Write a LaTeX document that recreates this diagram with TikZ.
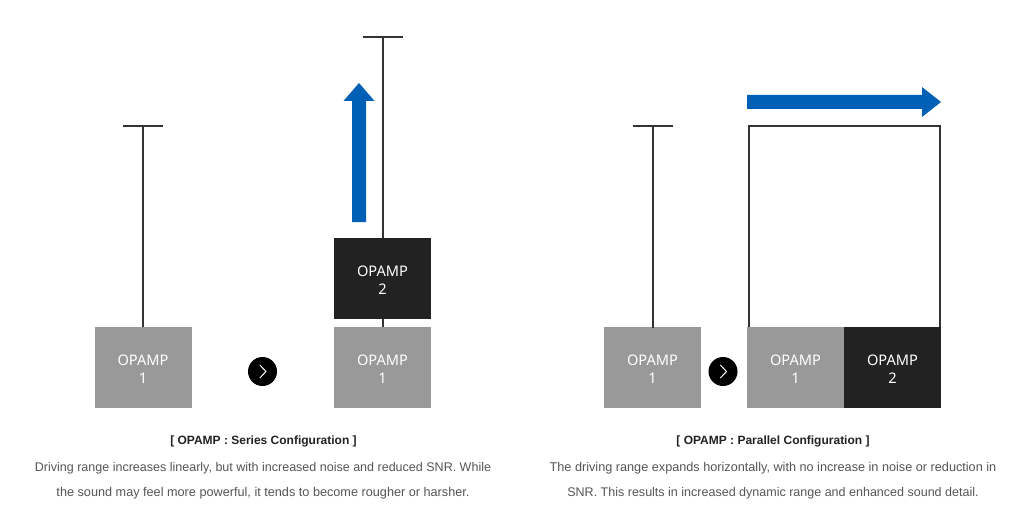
\documentclass[tikz,border=0pt]{standalone}
\usepackage{fontspec}
\setmainfont{Liberation Sans}
\newfontfamily\boxfont{Noto Sans}
\definecolor{lightbox}{HTML}{999999}
\definecolor{darkbox}{HTML}{222222}
\definecolor{linec}{HTML}{333333}
\definecolor{bluearrow}{HTML}{0060B5}
\definecolor{bodytext}{HTML}{555555}
\newcommand{\amplabel}[2]{\rule{0pt}{14pt}#1\\#2}
\tikzset{
  ampbox/.style={minimum width=97pt,minimum height=81pt,inner sep=0pt,outer sep=0pt,text=white,align=center,font=\boxfont\fontsize{14.6}{17.8}\selectfont},
  amplight/.style={ampbox,fill=lightbox},
  ampdark/.style={ampbox,fill=darkbox},
  railline/.style={draw=linec,line width=1.5pt},
  nextdot/.style={circle,fill=black,minimum size=29pt,inner sep=0pt},
  chev/.style={draw=white,line width=1pt},
  bigarrow/.style={fill=bluearrow,draw=none},
  titletext/.style={text=darkbox,font=\bfseries\fontsize{12}{14}\selectfont,inner sep=0pt},
  bodyline/.style={text=bodytext,font=\fontsize{12.52}{14}\selectfont,inner sep=0pt},
  bodywide/.style={text=bodytext,font=\fontsize{12.68}{14}\selectfont,inner sep=0pt},
}
\begin{document}
\begin{tikzpicture}[x=1pt,y=-1pt]
\useasboundingbox (0,0) rectangle (1024,532);
% left column
\node[amplight] (a1) at (143,367.75) {\amplabel{OPAMP}{1}};
\coordinate (a1top) at (143,126);
\coordinate (a1l) at (123,126);
\coordinate (a1r) at (163,126);
\draw[railline] (a1.north) -- (a1top);
\draw[railline] (a1l) -- (a1r);
\node[nextdot] (n1) at (262.5,371.5) {};
\draw[chev] (259.8,365) -- (266,371.5) -- (259.8,378);
% series
\coordinate (b1top) at (383,37);
\coordinate (b1l) at (362.5,37);
\coordinate (b1r) at (402.5,37);
\draw[railline] (383,328) -- (b1top);
\draw[railline] (b1l) -- (b1r);
\node[amplight] (b1) at (382.5,367.75) {\amplabel{OPAMP}{1}};
\node[ampdark] (b2) at (382.5,278.75) {\amplabel{OPAMP}{2}};
\fill[bigarrow] (352,222) -- (366,222) -- (366,101) -- (374.5,101) -- (359,83) -- (343.5,101) -- (352,101) -- cycle;
% parallel left
\node[amplight] (c1) at (652.5,367.75) {\amplabel{OPAMP}{1}};
\coordinate (c1top) at (653,126);
\coordinate (c1bot) at (653,328);
\coordinate (c1l) at (632.5,126);
\coordinate (c1r) at (672.5,126);
\draw[railline] (c1bot) -- (c1top);
\draw[railline] (c1l) -- (c1r);
\node[nextdot] (n2) at (723,371.5) {};
\draw[chev] (720.3,365) -- (726.5,371.5) -- (720.3,378);
% parallel right
\coordinate (pl) at (749,126);
\coordinate (pr) at (940,126);
\draw[railline] (749,328) -- (pl) -- (pr) -- (940,328);
\node[amplight] (d1) at (795.5,367.75) {\amplabel{OPAMP}{1}};
\node[ampdark] (d2) at (892.5,367.75) {\amplabel{OPAMP}{2}};
\fill[bigarrow] (747,95) -- (922,95) -- (922,87) -- (941,102) -- (922,117) -- (922,109) -- (747,109) -- cycle;
% captions
\node[titletext] (t1) at (263.5,441) {[ OPAMP : Series Configuration ]};
\node[bodyline] (t1a) at (263,468.5) {Driving range increases linearly, but with increased noise and reduced SNR. While};
\node[bodywide] (t1b) at (263,493.5) {the sound may feel more powerful, it tends to become rougher or harsher.};
\node[titletext] (t2) at (773,441) {[ OPAMP : Parallel Configuration ]};
\node[bodywide] (t2a) at (773,468.5) {The driving range expands horizontally, with no increase in noise or reduction in};
\node[bodyline] (t2b) at (773,493.5) {SNR. This results in increased dynamic range and enhanced sound detail.};
\end{tikzpicture}
\end{document}
